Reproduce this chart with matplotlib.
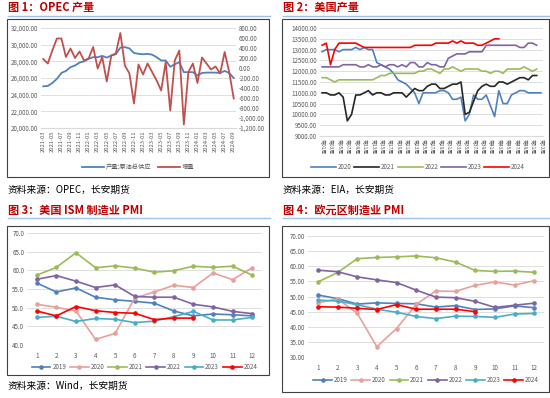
import numpy as np
import matplotlib.pyplot as plt
from matplotlib.lines import Line2D
from matplotlib.patches import Rectangle

plt.rcParams['font.family'] = ['Noto Sans CJK SC', 'DejaVu Sans']

# ---- data: OPEC production (monthly 2021-03 .. 2024-09)
opec_months = [f"{y}-{m:02d}" for y in range(2021, 2025) for m in range(1, 13)][2:45]
opec_supply = [25000, 25050, 25400, 25900, 26600, 26850, 27300, 27500, 27850, 28000,
               28300, 28500, 28500, 28650, 28450, 28700, 28850, 29650, 29700, 29550,
               29000, 28900, 28850, 28900, 28800, 28500, 28100, 28100, 27350, 27650,
               27900, 26700, 26700, 26700, 26300, 26600, 26650, 26650, 26650, 26600,
               26850, 26600, 26000]
opec_change = [180, 90, 350, 590, 590, 220, 390, 200, 330, 150,
               190, 420, -10, 220, -270, 250, 290, 700, 50, -110,
               -710, 70, -130, 90, -80, -250, -450, 120, -850, 150,
               350, -1130, -80, 90, -300, 210, 90, -30, 30, -110,
               320, -80, -610]

# ---- data: US crude production (weekly)
us_2020 = [12900, 13000, 13000, 13000, 12900, 13000, 13000, 13000, 13100, 13000,
           13100, 13000, 13000, 12400, 12300, 12200, 12100, 11900, 11600, 11500,
           11400, 11200, 11000, 10500, 11000, 11000, 11000, 11000, 11100, 11100,
           11000, 10700, 10700, 10800, 9700, 10000, 10900, 10700, 10700, 10900,
           10400, 9900, 11100, 10500, 10500, 10900, 11000, 11100, 11100, 11000,
           11000, 11000, 11000]
us_2021 = [11000, 11000, 10900, 10900, 11000, 10800, 9700, 10000, 10900, 10900,
           11000, 11100, 10900, 11000, 11000, 10900, 10900, 11000, 11000, 11000,
           10800, 11000, 11200, 11100, 11100, 11300, 11400, 11400, 11200, 11200,
           11300, 11400, 11400, 11500, 10000, 10100, 10600, 11100, 11300, 11400,
           11300, 11300, 11500, 11500, 11400, 11500, 11600, 11700, 11700, 11600,
           11800, 11800]
us_2022 = [11700, 11700, 11600, 11500, 11600, 11600, 11600, 11600, 11600, 11600,
           11600, 11600, 11600, 11700, 11800, 11800, 11900, 11900, 11900, 11900,
           11900, 11900, 11900, 12000, 12000, 12100, 12100, 12000, 11900, 12100,
           12100, 12200, 12100, 12000, 12100, 12100, 12100, 12100, 12000, 12000,
           11900, 12000, 12000, 11900, 12100, 12100, 12100, 12100, 12200, 12100,
           12000, 12100]
us_2023 = [12200, 12200, 12200, 12200, 12200, 12300, 12300, 12300, 12300, 12200,
           12200, 12300, 12200, 12200, 12300, 12200, 12300, 12300, 12200, 12300,
           12200, 12400, 12400, 12200, 12200, 12400, 12300, 12300, 12200, 12200,
           12600, 12700, 12800, 12800, 12800, 12900, 12900, 12900, 12900, 13200,
           13200, 13200, 13200, 13200, 13200, 13200, 13200, 13100, 13100, 13300,
           13300, 13200]
us_2024 = [13200, 13300, 12300, 13000, 13300, 13300, 13300, 13300, 13300, 13200,
           13100, 13100, 13100, 13100, 13100, 13100, 13100, 13100, 13100, 13100,
           13100, 13100, 13200, 13200, 13200, 13200, 13200, 13300, 13300, 13300,
           13300, 13400, 13300, 13400, 13300, 13300, 13300, 13200, 13200, 13300,
           13400, 13500, 13500]
week_labels = [f"第{w:02d}周" for w in range(1, 54, 2)]

# ---- data: US ISM manufacturing PMI
ism = {
    '2019': [56.6, 54.2, 55.3, 52.8, 52.1, 51.7, 51.2, 49.1, 47.8, 48.3, 48.1, 47.8],
    '2020': [50.9, 50.1, 49.1, 41.5, 43.1, 52.6, 54.2, 56.0, 55.4, 59.3, 57.5, 60.7],
    '2021': [58.7, 60.8, 64.7, 60.7, 61.2, 60.6, 59.5, 59.9, 61.1, 60.8, 61.1, 58.7],
    '2022': [57.6, 58.6, 57.1, 55.4, 56.1, 53.0, 52.8, 52.8, 50.9, 50.2, 49.0, 48.4],
    '2023': [47.4, 47.7, 46.3, 47.1, 46.9, 46.0, 46.4, 47.6, 49.0, 46.7, 46.7, 47.4],
    '2024': [49.1, 47.8, 50.3, 49.2, 48.7, 48.5, 46.8, 47.2, 47.2],
}
# ---- data: Eurozone manufacturing PMI
ez = {
    '2019': [50.5, 49.3, 47.5, 47.9, 47.7, 47.6, 46.5, 47.0, 45.7, 45.9, 46.9, 46.3],
    '2020': [47.9, 49.2, 44.5, 33.4, 39.4, 47.4, 51.8, 51.7, 53.7, 54.8, 53.8, 55.2],
    '2021': [54.8, 57.9, 62.5, 62.9, 63.1, 63.4, 62.8, 61.4, 58.6, 58.3, 58.4, 58.0],
    '2022': [58.7, 58.2, 56.5, 55.5, 54.6, 52.1, 49.8, 49.6, 48.4, 46.4, 47.1, 47.8],
    '2023': [48.8, 48.5, 47.3, 45.8, 44.8, 43.4, 42.7, 43.5, 43.4, 43.1, 44.2, 44.4],
    '2024': [46.6, 46.5, 46.1, 45.7, 47.3, 45.8, 45.8, 45.8, 45.0],
}

pmi_colors = {'2019': '#4F81BD', '2020': '#E6A19D', '2021': '#9BBB59',
              '2022': '#8064A2', '2023': '#4BACC6', '2024': '#FF0000'}
us_colors = ['#4F81BD', '#262626', '#9BBB59', '#8064A2', '#FF0000']

W, H = 550, 398
fig = plt.figure(figsize=(W / 100, H / 100), dpi=100)
TICK = '#595959'
GRID = '#D9D9D9'


def rect(l, t, r, b):
    return [l / W, 1 - b / H, (r - l) / W, (b - t) / H]


def box(l, t, r, b):
    fig.add_artist(Rectangle((l / W, 1 - b / H), (r - l) / W, (b - t) / H,
                             transform=fig.transFigure, fill=False,
                             edgecolor='#404040', lw=0.8))


def rule(x0, x1, y):
    fig.add_artist(Line2D([x0 / W, x1 / W], [1 - y / H] * 2,
                          color='#9DC3E6', lw=1.0))


def txt(x, y, s, **kw):
    fig.text(x / W, 1 - y / H, s, va='center', ha='left', **kw)


def style(ax):
    for s in ax.spines.values():
        s.set_visible(False)
    ax.tick_params(length=0, labelsize=4.5, colors=TICK, pad=2)
    ax.grid(axis='y', color=GRID, lw=0.6)
    ax.set_axisbelow(True)


# titles, rules and sources
title_kw = dict(color='#C00000', fontsize=8, fontweight='bold')
txt(8, 7, '图 1：OPEC 产量', **title_kw)
txt(283, 7, '图 2：美国产量', **title_kw)
txt(8, 210, '图 3：美国 ISM 制造业 PMI', **title_kw)
txt(283, 210, '图 4：欧元区制造业 PMI', **title_kw)
rule(8, 270, 16)
rule(283, 550, 16)
rule(8, 270, 218)
rule(283, 550, 218)
src_kw = dict(fontsize=7, color='#000000')
txt(8, 190, '资料来源：OPEC，长安期货', **src_kw)
txt(283, 190, '资料来源：EIA，长安期货', **src_kw)
txt(8, 386, '资料来源：Wind，长安期货', **src_kw)
box(7, 19, 269, 177)
box(282, 19, 549, 177)
box(7, 226, 269, 375)
box(282, 226, 549, 392)

# ---- panel 1
ax1 = fig.add_axes(rect(41, 28, 236, 128))
ax1b = ax1.twinx()
x1 = np.arange(len(opec_months))
l1, = ax1.plot(x1, opec_supply, color='#4F81BD', lw=1.3, label='产量:原油总供应')
l2, = ax1b.plot(x1, opec_change, color='#C0504D', lw=1.3, label='增量')
style(ax1)
style(ax1b)
ax1b.grid(False)
ax1.set_xlim(-0.5, len(opec_months) - 0.5)
ax1.set_ylim(20000, 32000)
ax1.set_yticks(np.arange(20000, 32001, 2000))
ax1.set_yticklabels([f"{v:,.2f}" for v in np.arange(20000, 32001, 2000)])
ax1b.set_ylim(-1200, 800)
ax1b.set_yticks(np.arange(-1200, 801, 200))
ax1b.set_yticklabels([f"{v:,.2f}" for v in np.arange(-1200, 801, 200)])
ax1.set_xticks(x1[::2])
ax1.set_xticklabels(opec_months[::2], rotation=90, fontsize=4.2)
ax1.spines['bottom'].set_visible(True)
ax1.spines['bottom'].set_color(GRID)
fig.legend(handles=[l1, l2], loc='center', bbox_to_anchor=(138 / W, 1 - 167 / H),
           ncol=2, frameon=False, fontsize=4.5, labelcolor=TICK,
           handlelength=3.5, columnspacing=1.0, handletextpad=0.3)

# ---- panel 2
ax2 = fig.add_axes(rect(320, 28, 543, 136))
us_series = [('2020', us_2020), ('2021', us_2021), ('2022', us_2022),
             ('2023', us_2023), ('2024', us_2024)]
handles2 = []
for (lab, vals), c in zip(us_series, us_colors):
    h, = ax2.plot(np.arange(1, len(vals) + 1), vals, color=c, lw=1.2, label=lab)
    handles2.append(h)
style(ax2)
ax2.set_xlim(0.5, 53.5)
ax2.set_ylim(9000, 14000)
ax2.set_yticks(np.arange(9000, 14001, 500))
ax2.set_yticklabels([f"{v:.2f}" for v in np.arange(9000, 14001, 500)])
ax2.set_xticks(np.arange(1, 54, 2))
ax2.set_xticklabels(week_labels, rotation=-90, fontsize=3.5)
ax2.spines['bottom'].set_visible(True)
ax2.spines['bottom'].set_color(GRID)
fig.legend(handles=handles2, loc='center', bbox_to_anchor=(418 / W, 1 - 167 / H),
           ncol=5, frameon=False, fontsize=4.5, labelcolor=TICK,
           handlelength=4, columnspacing=0.4, handletextpad=0.3)


# ---- panels 3 and 4
def pmi_panel(r, data, ylo, step_fmt, leg_y):
    ax = fig.add_axes(rect(*r))
    hs = []
    for lab, vals in data.items():
        h, = ax.plot(np.arange(1, len(vals) + 1), vals, color=pmi_colors[lab],
                     lw=1.2, marker='o', ms=2.3, label=lab)
        hs.append(h)
    style(ax)
    ax.set_xlim(0.5, 12.5)
    ax.set_ylim(ylo, 70)
    ticks = np.arange(ylo, 71, 5)
    ax.set_yticks(ticks)
    ax.set_yticklabels([step_fmt.format(v) for v in ticks])
    ax.set_xticks(np.arange(1, 13))
    ax.tick_params(axis='x', pad=5)
    fig.legend(handles=hs, loc='center', bbox_to_anchor=((r[0] + r[2]) / 2 / W, 1 - leg_y / H),
               ncol=6, frameon=False, fontsize=4.5, labelcolor=TICK,
               handlelength=3, columnspacing=0.6, handletextpad=0.3)
    return ax


pmi_panel((27, 233, 262, 345), ism, 40, '{:.1f}', 367)
pmi_panel((308, 236, 544, 357), ez, 30, '{:.2f}', 380)

fig.savefig('out.png', dpi=100)
